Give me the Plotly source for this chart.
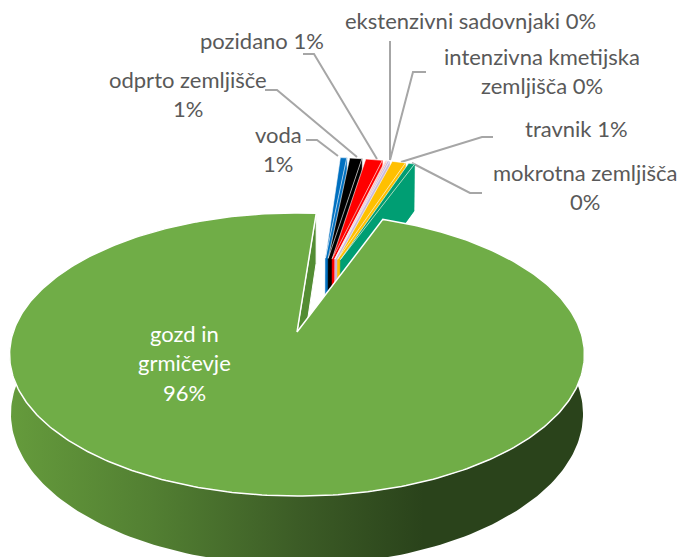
import math

import numpy as np
import plotly.graph_objects as go

# shares in percent, clockwise from the top of the pie
categories = ['voda', 'odprto zemljišče', 'pozidano', 'ekstenzivni sadovnjaki',
              'intenzivna kmetijska zemljišča', 'travnik', 'mokrotna zemljišča',
              'gozd in grmičevje']
values = [0.5, 0.9, 1.2, 0.12, 0.2, 1.0, 0.48, 95.6]
slice_colors = ['#0070C0', '#000000', '#FF0000', '#F4A6A0', '#C9B8DC',
                '#FFC000', '#009E73', '#70AD47']
label_lines = [['voda', '1%'], ['odprto zemljišče', '1%'], ['pozidano 1%'],
               ['ekstenzivni sadovnjaki 0%'], ['intenzivna kmetijska', 'zemljišča 0%'],
               ['travnik 1%'], ['mokrotna zemljišča', '0%'],
               ['gozd in', 'grmičevje', '96%']]

# label centres and leader polylines, in picture pixels
label_pos = [(278, 134), (188, 79), (262, 40), (470, 20), (542, 56), (576, 128),
             (585, 172), (184, 333)]
leaders = [[(306, 140), (317, 140), (338, 156)],
           [(265, 90), (277, 90), (357, 157)],
           [(303, 54), (314, 54), (377, 159)],
           [(390, 41), (390, 160)],
           [(426, 72), (413, 72), (390, 160)],
           [(493, 137), (482, 137), (401, 162)],
           [(482, 193), (470, 193), (412, 163)]]

# projection of the tilted disc onto the picture
CX, CY = 297, 332
A, B, K = 283.8, 138, 0.159
H, SHRINK = 58, 0.005
START_ANGLE = 85.5
EXPLODE = 0.595
SPREAD = 0.4
SPREAD_SHIFT = -1.0
LINE_SPACING = 29.5
# the page keeps its 8px body margin, so the axes start there
PAGE_MARGIN = 8


def project(x, y, z=0.0):
    x, y = np.asarray(x, float), np.asarray(y, float)
    w = 1 + K * y
    return CX + A * x / w * (1 - SHRINK * z), CY - B * y / w + H * z / w


def sector(theta0, theta1, dx=0.0, dy=0.0, z=0.0, steps=40):
    theta = np.radians(np.linspace(theta0, theta1, steps))
    return project(dx + np.cos(theta), dy + np.sin(theta), z)


def polygon(fig, xs, ys, color, line_color=None, width=1.0):
    fig.add_trace(go.Scatter(
        x=list(xs), y=list(ys), mode='lines', fill='toself', fillcolor=color,
        line=dict(color=line_color or color, width=width if line_color else 0.5),
        hoverinfo='skip', showlegend=False))


def draw_small_slice(fig, theta0, theta1, group_mid, color):
    mid = (theta0 + theta1) / 2
    direction = math.radians(group_mid + SPREAD_SHIFT + SPREAD * (mid - group_mid))
    dx, dy = EXPLODE * math.cos(direction), EXPLODE * math.sin(direction)
    ax_t, ay_t = project(dx, dy)
    ax_b, ay_b = project(dx, dy, 1)
    rx_t, ry_t = sector(theta0, theta1, dx, dy)
    rx_b, ry_b = sector(theta0, theta1, dx, dy, 1)
    # underside, the radial cut that faces the viewer, then the top
    polygon(fig, [ax_b, *rx_b, ax_b], [ay_b, *ry_b, ay_b], color)
    polygon(fig, [ax_t, rx_t[-1], rx_b[-1], ax_b, ax_t],
            [ay_t, ry_t[-1], ry_b[-1], ay_b, ay_t], color)
    polygon(fig, [ax_t, *rx_t, ax_t], [ay_t, *ry_t, ay_t], color, 'white', 0.6)


fig = go.Figure()

# leader lines stay behind the slices
for points in leaders:
    fig.add_trace(go.Scatter(
        x=[p[0] for p in points], y=[p[1] for p in points], mode='lines',
        line=dict(color='#A6A6A6', width=2), hoverinfo='skip', showlegend=False))

angles = START_ANGLE - np.cumsum([0] + values) * 3.6
small_end = angles[len(values) - 1]
group_mid = (START_ANGLE + small_end) / 2
for i in range(len(values) - 1):
    draw_small_slice(fig, angles[i], angles[i + 1], group_mid, slice_colors[i])

# the large slice: outer wall, inner cut, then the top face
main_from, main_to = angles[-2], angles[-1]
top_x, top_y = sector(170, 370, steps=160)
bot_x, bot_y = sector(170, 370, z=1, steps=160)
fig.add_trace(go.Scatter(
    x=[*bot_x, *top_x[::-1], bot_x[0]], y=[*bot_y, *top_y[::-1], bot_y[0]],
    mode='lines', fill='toself', line=dict(width=0), hoverinfo='skip', showlegend=False,
    fillgradient=dict(type='horizontal', start=10, stop=584,
                      colorscale=[[0, '#659B3C'], [0.25, '#527F32'], [0.5, '#3C5C26'],
                                  [0.72, '#2A431B'], [1, '#2A431B']])))

cx0, cy0 = project(0, 0)
cx1, cy1 = project(0, 0, 1)
ex_t, ey_t = sector(main_to, main_to, steps=1)
ex_b, ey_b = sector(main_to, main_to, z=1, steps=1)
polygon(fig, [cx0, ex_t[0], ex_b[0], cx1, cx0], [cy0, ey_t[0], ey_b[0], cy1, cy0],
        '#538D33', 'white', 1.0)

face_x, face_y = sector(main_from, main_to, steps=400)
polygon(fig, [cx0, *face_x, cx0], [cy0, *face_y, cy0], slice_colors[-1], 'white', 1.5)

annotations = []
for i, (lines, (x, y)) in enumerate(zip(label_lines, label_pos)):
    color = 'white' if i == len(label_lines) - 1 else '#595959'
    for j, line in enumerate(lines):
        annotations.append(dict(
            x=x, y=y + j * LINE_SPACING, text=line, showarrow=False,
            xanchor='center', yanchor='middle',
            font=dict(family='Lato', size=22, color=color)))

fig.update_layout(
    width=686 - PAGE_MARGIN, height=557 - PAGE_MARGIN, margin=dict(l=0, r=0, t=0, b=0),
    paper_bgcolor='white', plot_bgcolor='white', showlegend=False,
    xaxis=dict(range=[PAGE_MARGIN, 686], visible=False, fixedrange=True),
    yaxis=dict(range=[557, PAGE_MARGIN], visible=False, fixedrange=True),
    annotations=annotations)

fig.write_html("out.html")
